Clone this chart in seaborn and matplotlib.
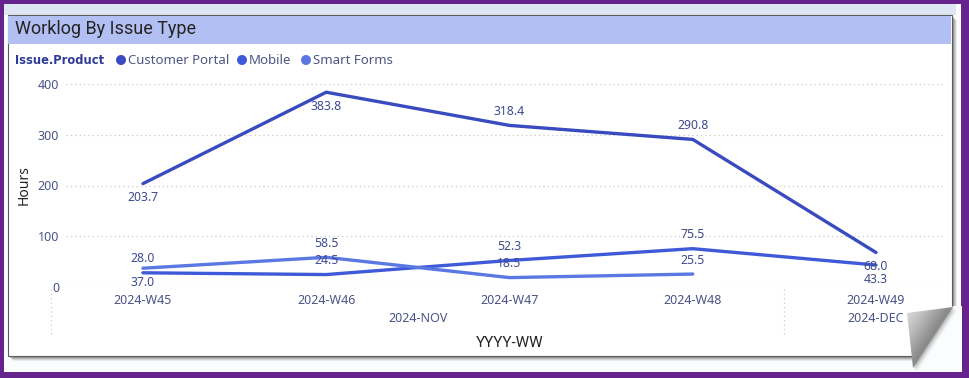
import numpy as np
import pandas as pd
import matplotlib
matplotlib.use("Agg")
import matplotlib.pyplot as plt
from matplotlib.patches import Rectangle, Polygon, Circle
import matplotlib.transforms as mtrans
import seaborn as sns

# ---------------- data ----------------
weeks = ["2024-W45", "2024-W46", "2024-W47", "2024-W48", "2024-W49"]
months = ["2024-NOV", "2024-DEC"]
month_of_week = ["2024-NOV", "2024-NOV", "2024-NOV", "2024-NOV", "2024-DEC"]
series_names = ["Customer Portal", "Mobile", "Smart Forms"]
customer_portal = [203.7, 383.8, 318.4, 290.8, 68.0]
mobile = [28.0, 24.5, 52.3, 75.5, 43.3]
smart_forms = [37.0, 58.5, 18.5, 25.5, np.nan]
y_ticks = [0, 100, 200, 300, 400]

# label placement (style): +1 above, -1 below
label_side = {
    "Customer Portal": [-1, -1, 1, 1, -1],
    "Mobile": [1, 1, 1, 1, -1],
    "Smart Forms": [-1, 1, 1, 1, 0],
}
palette = {"Customer Portal": "#3a4bbf", "Mobile": "#3f5ad8", "Smart Forms": "#5a78e2"}

rows = []
for name, vals in zip(series_names, [customer_portal, mobile, smart_forms]):
    for i, (w, v) in enumerate(zip(weeks, vals)):
        rows.append({"week": w, "idx": i, "series": name, "hours": v})
df = pd.DataFrame(rows)

# ---------------- figure ----------------
sns.set_theme(style="white")
plt.rcParams["font.family"] = ["Noto Sans", "DejaVu Sans"]

W, H = 970, 378
fig = plt.figure(figsize=(W / 100, H / 100), dpi=100)
fig.patch.set_facecolor("#66238d")

bg = fig.add_axes([0, 0, 1, 1], zorder=-5)
bg.set_xlim(0, W)
bg.set_ylim(H, 0)
bg.axis("off")

# page background
bg.add_patch(Rectangle((4, 4), 957, 368, facecolor="#fbfcfe", edgecolor="none"))
bg.add_patch(Rectangle((4, 4), 952, 11, facecolor="#dfe6f3", edgecolor="none"))
# card shadow
for k, a in enumerate([0.10, 0.16, 0.22, 0.30, 0.40]):
    off = 5 - k
    bg.add_patch(Rectangle((8 + off, 15 + off), 944, 341, facecolor="#555555",
                           edgecolor="none", alpha=a))
# card
bg.add_patch(Rectangle((8, 15), 944, 341, facecolor="white", edgecolor="#5c5c5c", lw=0.8))
bg.add_patch(Rectangle((8.5, 15.5), 943, 28, facecolor="#b1bff2", edgecolor="none"))

# page curl at bottom-right corner
bg.add_patch(Polygon([(953, 306), (962, 306), (962, 372), (906, 372)], closed=True,
                     facecolor="#fbfcfe", edgecolor="none", zorder=3))
for k, a in enumerate([0.05, 0.08, 0.12, 0.16]):
    d = 4 - k
    bg.add_patch(Polygon([(907 + d, 313 + d), (953 + d, 307 + d), (913 + d, 368 + d)],
                         closed=True, facecolor="#444444", edgecolor="none",
                         alpha=a, zorder=3.5))
curl = Polygon([(907, 313), (953, 307), (913, 368)], closed=True,
               facecolor="none", edgecolor="none", zorder=4)
bg.add_patch(curl)
gx, gy = np.meshgrid(np.linspace(900, 960, 120), np.linspace(300, 372, 144))
p0 = np.array([907.0, 313.0])
n = np.array([61.0, 40.0]) / np.hypot(61.0, 40.0)
t = ((gx - p0[0]) * n[0] + (gy - p0[1]) * n[1]) / 33.0
grad = np.clip(t, 0, 1)
img = bg.imshow(grad, extent=(900, 960, 372, 300), cmap="Greys", vmin=-0.9, vmax=2.6,
                origin="upper", zorder=4, interpolation="bilinear", aspect="auto")
img.set_clip_path(curl)
bg.set_xlim(0, W)
bg.set_ylim(H, 0)

# title
bg.text(15, 29, "Worklog By Issue Type", fontsize=13, color="#252423",
        va="center", ha="left", family=["Roboto", "DejaVu Sans"])

# legend
bg.text(15, 60, "Issue.Product", fontsize=8.3, color="#2e3b99", fontweight="bold",
        va="center", ha="left", family=["DejaVu Sans"])
leg_x = [121, 242, 306]
for x, name in zip(leg_x, series_names):
    bg.add_patch(Circle((x, 60), 5, facecolor=palette[name], edgecolor="none"))
    bg.text(x + 7, 60, name, fontsize=9.5, color="#4d5585", va="center", ha="left")

# axis titles
bg.text(24, 185, "Hours", fontsize=10, color="#252423", rotation=90,
        va="center", ha="center")
bg.text(510, 343, "YYYY-WW", fontsize=11, color="#252423", va="center", ha="center",
        family=["Roboto", "DejaVu Sans"])

# ---------------- plot axes ----------------
left, right, top, bottom = 66, 945, 84, 287
ax = fig.add_axes([left / W, (H - bottom) / H, (right - left) / W, (bottom - top) / H])
ax.patch.set_alpha(0)

sns.lineplot(data=df, x="idx", y="hours", hue="series", palette=palette,
             hue_order=series_names, sort=False, linewidth=2.4, legend=False,
             ax=ax, clip_on=False)

ax.set_ylim(0, 400)
ax.set_xlim(-0.42, 4.3765)
ax.set_yticks(y_ticks)
ax.set_xticks(range(len(weeks)))
ax.set_xticklabels(weeks)
ax.tick_params(axis="both", length=0, labelsize=9, colors="#4a5388")
ax.tick_params(axis="x", pad=5)
ax.tick_params(axis="y", pad=5)
for s in ax.spines.values():
    s.set_visible(False)
ax.set_xlabel("")
ax.set_ylabel("")
for yv in y_ticks:
    ax.axhline(yv, color="#c9c9c9", lw=0.9, ls=(0, (1, 2.5)), zorder=0)

# data labels
for name, vals in zip(series_names, [customer_portal, mobile, smart_forms]):
    for i, v in enumerate(vals):
        if np.isnan(v):
            continue
        side = label_side[name][i]
        ax.annotate(f"{v:.1f}", (i, v), xytext=(0, 14 * side), textcoords="offset pixels",
                    ha="center", va="center", fontsize=8.8, color="#3e4a8f",
                    annotation_clip=False)

# month hierarchy labels and separators
trans = mtrans.blended_transform_factory(ax.transData, bg.transData)
nov_idx = [i for i, m in enumerate(month_of_week) if m == months[0]]
dec_idx = [i for i, m in enumerate(month_of_week) if m == months[1]]
bg.text(np.mean(nov_idx), 319, months[0], transform=trans, fontsize=9,
        color="#4a5388", ha="center", va="center")
bg.text(np.mean(dec_idx), 319, months[1], transform=trans, fontsize=9,
        color="#4a5388", ha="center", va="center")
for xs in [-0.5, max(nov_idx) + 0.5]:
    bg.plot([xs, xs], [289, 334], transform=trans, color="#c9c9c9", lw=0.9,
            ls=(0, (1, 2.5)))

fig.savefig("out.png", dpi=100, facecolor=fig.get_facecolor())
